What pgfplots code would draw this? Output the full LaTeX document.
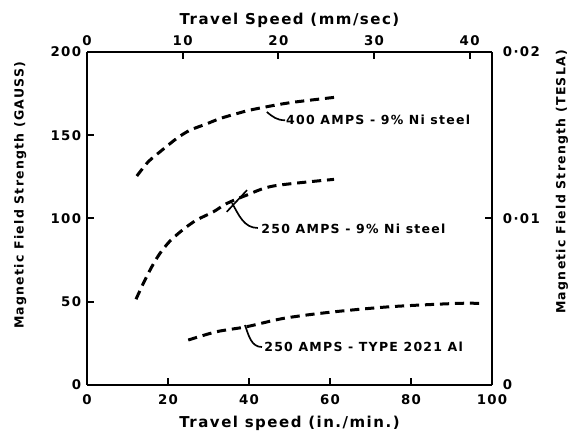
\documentclass[border=0pt]{standalone}
\usepackage{fontspec}
\setmainfont[LetterSpace=10]{DejaVu Sans}
\usepackage{pgfplots}
\pgfplotsset{compat=1.18}
\begin{document}
\begin{tikzpicture}[font=\bfseries\fontsize{7.5}{9}\selectfont]
\path[use as bounding box] (-52.2pt,-28.2pt) rectangle (290.4pt,231pt);
\pgfplotsset{every axis/.append style={
  scale only axis, width=243pt, height=199.8pt,
  axis line style={line width=1.4pt},
  tick style={line width=1.2pt, black},
  major tick length=4pt, tick align=inside,
  /pgf/number format/assume math mode=true,
  tick label style={font=\bfseries\fontsize{8}{10}\selectfont},
}}
\begin{axis}[
  xmin=0, xmax=100, ymin=0, ymax=200,
  axis x line*=bottom, axis y line*=left,
  xtick={0,20,...,100}, ytick={0,50,...,200},
  xticklabel style={yshift=-2pt},
  xlabel={Travel speed (in./min.)},
  ylabel={Magnetic Field Strength (GAUSS)},
  xlabel style={at={(axis description cs:0.5,-0.114)}, anchor=center,
    font=\bfseries\fontsize{9}{11}\selectfont},
  ylabel style={at={(axis description cs:-0.165,0.57)}, anchor=center,
    font=\bfseries\fontsize{7.5}{9}\selectfont},
]
% 400 AMPS - 9% Ni steel
\addplot[black, line width=1.8pt, dash pattern=on 5.5pt off 3.5pt, smooth] coordinates {
  (12.3,125.5) (15.1,134) (18,140) (22.1,148) (25.4,153) (29.5,156.8)
  (32.8,160) (37,163) (41,165.5) (50,169.5) (62,173)};
% 250 AMPS - 9% Ni steel
\addplot[black, line width=1.8pt, dash pattern=on 5.5pt off 3.5pt, smooth] coordinates {
  (12.1,51.5) (14,61.5) (16,71) (18,79) (20.5,86.5) (23.8,93.5)
  (27,99) (31.2,104) (34.5,109) (39.4,114) (46,119.5) (61,123.5)};
% 250 AMPS - Type 2021 Al
\addplot[black, line width=1.8pt, dash pattern=on 5.5pt off 3.5pt, smooth] coordinates {
  (25,27) (32,32) (39.4,35) (48.5,40) (60,43.7) (74.8,47) (91.3,49) (97,49)};

\draw[line width=1pt] (axis cs:44.4,164) to[out=-40,in=180] (axis cs:48.9,159);
\node[anchor=west, inner sep=0pt] at (axis cs:49.1,159) {400 AMPS - 9\% Ni steel};
\draw[line width=1pt] (axis cs:35.8,109.3) to[out=-60,in=180] (axis cs:42.2,94.3);
\draw[line width=1pt] (axis cs:34.5,104) -- (axis cs:39.5,117);
\node[anchor=west, inner sep=0pt] at (axis cs:43,94) {250 AMPS - 9\% Ni steel};
\draw[line width=1pt] (axis cs:39,36) to[out=-70,in=180] (axis cs:43.2,22.8);
\node[anchor=west, inner sep=0pt] at (axis cs:43.7,22.8) {250 AMPS - TYPE 2021 Al};
\end{axis}
\begin{axis}[
  xmin=0, xmax=42.333, ymin=0, ymax=0.02,
  axis x line*=top, axis y line*=right,
  xtick={0,10,20,30,40},
  ytick={0,0.01,0.02}, yticklabels={0,0·01,0·02},
  yticklabel style={xshift=3pt},
  scaled y ticks=false,
  xlabel={Travel Speed (mm/sec)},
  ylabel={Magnetic Field Strength (TESLA)},
  xlabel style={at={(axis description cs:0.5,1.096)}, anchor=center,
    font=\bfseries\fontsize{9}{11}\selectfont},
  ylabel style={at={(axis description cs:1.173,0.61)}, anchor=center, rotate=0,
    font=\bfseries\fontsize{7.5}{9}\selectfont},
]
\end{axis}
\end{tikzpicture}
\end{document}
